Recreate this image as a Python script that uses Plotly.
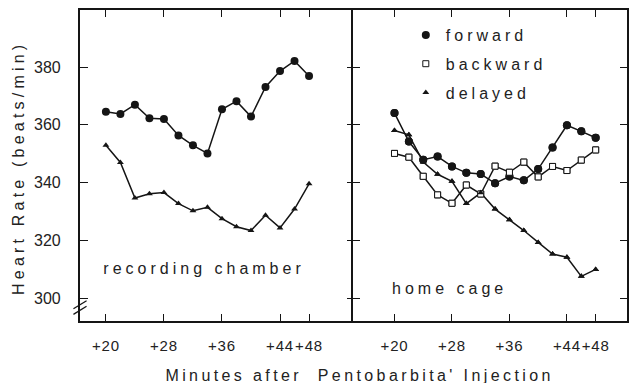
import plotly.graph_objects as go

# ---- data ----
minutes = [20, 22, 24, 26, 28, 30, 32, 34, 36, 38, 40, 42, 44, 46, 48]
tick_vals = [20, 28, 36, 44, 48]
tick_text = ["+20", "+28", "+36", "+44", "+48"]
y_tick_vals = [300, 320, 340, 360, 380]
y_tick_text = ["300", "320", "340", "360", "380"]

chamber_forward = [364.6, 363.8, 367.0, 362.3, 362.1, 356.4, 353.0, 350.2, 365.4, 368.2, 362.9, 373.1, 378.6, 382.1, 376.9]
chamber_delayed = [353.0, 347.1, 334.8, 336.3, 336.7, 332.9, 330.4, 331.6, 327.7, 324.9, 323.6, 328.9, 324.5, 331.0, 339.7]

home_forward = [364.1, 354.3, 348.0, 349.1, 345.7, 343.5, 343.1, 339.9, 342.2, 340.9, 344.8, 352.2, 359.9, 357.8, 355.6]
home_backward = [350.2, 348.9, 342.3, 335.9, 333.0, 339.3, 336.2, 345.8, 343.7, 347.2, 342.1, 345.7, 344.3, 347.9, 351.4]
home_delayed = [358.1, 356.6, 347.2, 343.0, 340.6, 332.9, 336.6, 331.0, 327.3, 323.6, 319.5, 315.5, 314.4, 307.8, 310.2]

INK = "#151515"
FONT = "Liberation Sans"

styles = {
    "forward": dict(symbol="circle", size=8, color=INK, line=dict(color=INK, width=0)),
    "backward": dict(symbol="square", size=6, color="white", line=dict(color=INK, width=1)),
    "delayed": dict(symbol="triangle-up", size=6, color=INK, line=dict(color=INK, width=0)),
}

fig = go.Figure()

def add_series(x, y, name, xa, ya):
    fig.add_trace(go.Scatter(x=x, y=y, mode="lines", line=dict(color=INK, width=1.5),
                             xaxis=xa, yaxis=ya, showlegend=False, hoverinfo="skip"))
    fig.add_trace(go.Scatter(x=x, y=y, mode="markers", marker=styles[name], name=name,
                             xaxis=xa, yaxis=ya, showlegend=False, legendgroup=name))

add_series(minutes, chamber_forward, "forward", "x", "y")
add_series(minutes, chamber_delayed, "delayed", "x", "y")
add_series(minutes, home_backward, "backward", "x2", "y2")
add_series(minutes, home_delayed, "delayed", "x2", "y2")
add_series(minutes, home_forward, "forward", "x2", "y2")

# legend-carrying traces in desired order (same data, drawn on top)
for nm, yy in [("forward", home_forward), ("backward", home_backward), ("delayed", home_delayed)]:
    fig.add_trace(go.Scatter(x=minutes, y=yy, mode="markers", marker=styles[nm], name=nm,
                             xaxis="x2", yaxis="y2", showlegend=True, legendgroup=nm))

yrange = [292.4, 399.66]
LW = 1.5
left_end = (275 + LW / 2) / 549
right_start = (275 - LW / 2) / 549

axis_common = dict(showline=True, linewidth=LW, linecolor=INK, mirror="allticks",
                   ticks="inside", tickcolor=INK, tickwidth=1.3, showgrid=False, zeroline=False)

xtick_font = dict(size=15, family=FONT, color="#222")

fig.update_layout(
    width=634, height=383,
    margin=dict(l=80, r=5, t=10, b=62),
    paper_bgcolor="white", plot_bgcolor="white",
    font=dict(family=FONT, size=16, color="#222"),
    xaxis=dict(domain=[0, left_end], range=[16.43, 54.3], anchor="y",
               tickvals=tick_vals, ticktext=tick_text, ticklen=7, tickangle=0,
               tickfont=xtick_font, ticklabelstandoff=10, **axis_common),
    xaxis2=dict(domain=[right_start, 1], range=[14.26, 52.36], anchor="y2",
                tickvals=tick_vals, ticktext=tick_text, ticklen=7, tickangle=0,
                tickfont=xtick_font, ticklabelstandoff=10, **axis_common),
    yaxis=dict(domain=[0, 1], range=yrange, anchor="x", tickvals=y_tick_vals,
               showticklabels=False, ticklen=8, **axis_common),
    yaxis2=dict(domain=[0, 1], range=yrange, anchor="x2", tickvals=y_tick_vals,
                showticklabels=False, ticklen=7, **axis_common),
    legend=dict(x=(407 - 80) / 549, y=(321 - 18) / 311, xanchor="left", yanchor="top",
                font=dict(size=16, family=FONT, color="#222"), bgcolor="rgba(0,0,0,0)",
                tracegroupgap=5, traceorder="grouped"),
    showlegend=True,
)

# y tick labels, placed at the data values of the left axis
for v, s in zip(y_tick_vals, y_tick_text):
    fig.add_annotation(text=s, x=-17 / 549, y=v, xref="paper", yref="y",
                       xanchor="right", yanchor="middle", showarrow=False,
                       font=dict(size=16), name="ytl")

def note(text, px, py, angle=0):
    fig.add_annotation(text=text, x=(px - 80) / 549, y=(321 - py) / 311,
                       xref="paper", yref="paper", showarrow=False, textangle=angle,
                       xanchor="center", yanchor="middle", font=dict(size=16))

note("recording chamber", 204.5, 268)
note("home cage", 451, 288)
note("Minutes after  Pentobarbita' Injection", 360.5, 375)
note("Heart Rate (beats/min)", 18, 167.5, angle=-90)

# axis break mark on the left axis below 300
for dy in (0.0, 1.9):
    fig.add_shape(type="line", xref="paper", yref="y",
                  x0=-0.012, x1=0.012, y0=296.6 - dy, y1=299.4 - dy,
                  line=dict(color=INK, width=1.3))

post = """
var gd = document.getElementById('{plot_id}');
function spaced(t, v, mode){
  var b0 = t.getBBox();
  t.style.letterSpacing = v;
  var b1 = t.getBBox();
  var dx = 0;
  if (mode === 'center') { dx = (b0.x + b0.width / 2) - (b1.x + b1.width / 2); }
  else if (mode === 'end') { dx = (b0.x + b0.width) - (b1.x + b1.width); }
  else { dx = b0.x - b1.x; }
  var x0 = parseFloat(t.getAttribute('x') || '0');
  t.setAttribute('x', x0 + dx);
}
gd.querySelectorAll('.xtick text, .x2tick text').forEach(function(t){ spaced(t, '0.8px', 'center'); });
gd.querySelectorAll('.legendtext').forEach(function(t){ spaced(t, '4px', 'start'); });
gd.querySelectorAll('.legend .scrollbox').forEach(function(e){ e.removeAttribute('clip-path'); });
gd.querySelectorAll('.annotation-text').forEach(function(t){
  var s = t.textContent;
  if (/^[0-9]+$/.test(s)) { return; }
  var v = '4px';
  if (s.indexOf('Minutes') === 0) { v = '3.4px'; }
  else if (s.indexOf('Heart') === 0) { v = '4.2px'; }
  spaced(t, v, 'center');
});
"""

fig.write_html("out.html", post_script=post)
